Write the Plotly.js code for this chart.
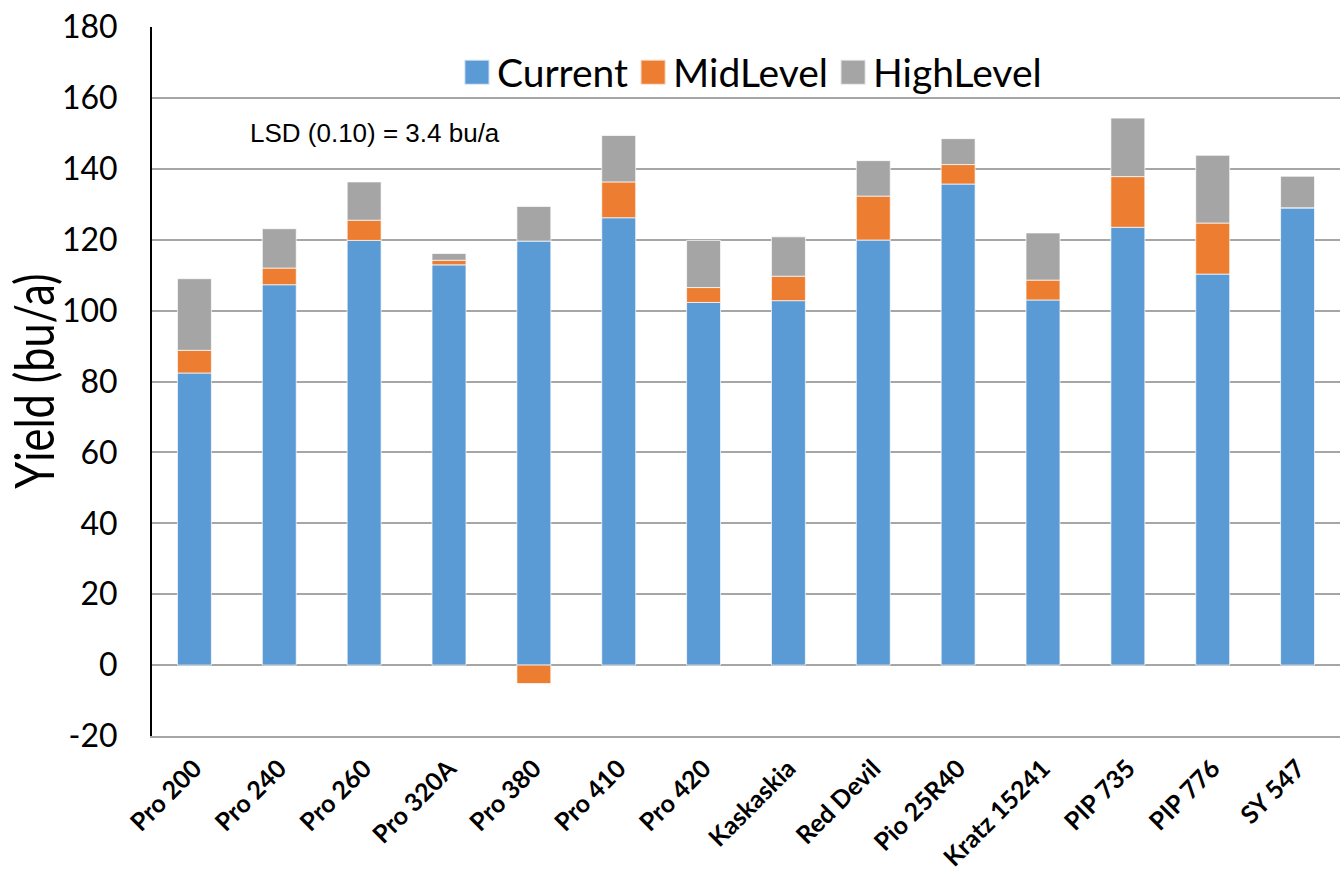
<!DOCTYPE html>
<html>
<head>
<meta charset="utf-8">
<script src="https://cdn.plot.ly/plotly-3.0.1.min.js"></script>
<style>
  html, body { margin: 0; padding: 0; background: #ffffff; }
  #chart { width: 1341px; height: 880px; }
  /* condensed lettering for the vertical yield title */
  #chart text.annotation-text[data-unformatted^="Yield"] {
    transform-box: fill-box;
    transform-origin: center;
    transform: scaleX(0.8);
  }
</style>
</head>
<body>
<div id="chart"></div>
<script>
// Soybean variety yields by management level (bu/a).
// Mid and High levels are stacked as increments over the current practice.
const varieties = ["Pro 200", "Pro 240", "Pro 260", "Pro 320A", "Pro 380", "Pro 410", "Pro 420",
                   "Kaskaskia", "Red Devil", "Pio 25R40", "Kratz 15241", "PIP 735", "PIP 776", "SY 547"];
const currentYield = [82.4, 107.3, 119.8, 112.9, 119.6, 126.2, 102.3, 102.8, 119.9, 135.7, 103.0, 123.5, 110.3, 129.0];
const midLevelGain = [6.4, 4.7, 5.7, 1.3, -5.2, 10.1, 4.2, 6.9, 12.4, 5.5, 5.6, 14.3, 14.4, 0];
const highLevelGain = [20.2, 11.1, 10.8, 1.9, 9.8, 13.1, 13.3, 11.1, 10.0, 7.3, 13.3, 16.5, 19.1, 8.9];
const yTicks = [-20, 0, 20, 40, 60, 80, 100, 120, 140, 160, 180];

const barLine = { color: "rgba(255,255,255,0.7)", width: 1 };

const traces = [
  { type: "bar", name: "Current", x: varieties, y: currentYield,
    marker: { color: "#5B9BD5", line: barLine } },
  { type: "bar", name: "MidLevel", x: varieties, y: midLevelGain,
    marker: { color: "#ED7D31", line: barLine } },
  { type: "bar", name: "HighLevel", x: varieties, y: highLevelGain,
    marker: { color: "#A5A5A5", line: barLine } }
];

const layout = {
  width: 1341,
  height: 880,
  margin: { l: 152, r: 1, t: 27, b: 144 },
  paper_bgcolor: "#ffffff",
  plot_bgcolor: "#ffffff",
  barmode: "relative",
  bargap: 0.6,
  showlegend: true,
  legend: {
    orientation: "h",
    x: 0.505, xanchor: "center",
    y: 0.936, yanchor: "middle",
    font: { family: "Lato, 'Open Sans', sans-serif", size: 39, color: "#000000" },
    itemwidth: 30,
    traceorder: "normal",
    bgcolor: "rgba(0,0,0,0)"
  },
  xaxis: {
    type: "category",
    showline: true, linecolor: "#a6a6a6", linewidth: 2,
    showgrid: false, ticks: "",
    tickangle: -45,
    ticklabelstandoff: 6,
    tickfont: { family: "Lato, 'Open Sans', sans-serif", size: 25, color: "#000000", weight: "bold" },
    fixedrange: true
  },
  yaxis: {
    range: [-20, 180],
    tickvals: yTicks,
    ticktext: yTicks.map(String),
    showline: true, linecolor: "#000000", linewidth: 2,
    showgrid: true, gridcolor: "#a6a6a6", gridwidth: 2,
    zeroline: true, zerolinecolor: "#a6a6a6", zerolinewidth: 2,
    ticks: "",
    ticklabelstandoff: 26,
    tickfont: { family: "Lato, 'Open Sans', sans-serif", size: 32, color: "#000000" },
    fixedrange: true
  },
  annotations: [
    { xref: "paper", yref: "paper", x: 0.081, y: 0.850, xanchor: "left", yanchor: "middle",
      text: "LSD (0.10) = 3.4 bu/a", showarrow: false,
      font: { family: "'Liberation Sans', Arial, sans-serif", size: 26, color: "#000000" } },
    { xref: "paper", yref: "paper", x: -0.100, y: 0.5, xanchor: "center", yanchor: "middle",
      text: "Yield (bu/a)", textangle: -90, showarrow: false,
      font: { family: "Lato, 'Open Sans', sans-serif", size: 54, color: "#000000" } }
  ]
};

Plotly.newPlot("chart", traces, layout, { displayModeBar: false, staticPlot: true }).then(function (gd) {
  // enlarge the legend colour squares, keeping their own placement
  gd.querySelectorAll(".legend .legendpoints path").forEach(function (p) {
    const t = p.getAttribute("transform") || "";
    p.setAttribute("transform", t + " scale(2.1)");
  });
});
</script>
</body>
</html>
